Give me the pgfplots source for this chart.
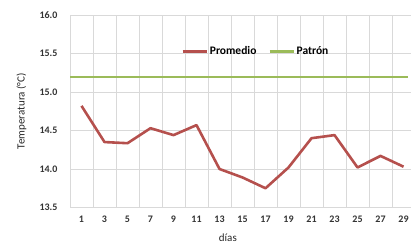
\documentclass[border=0pt]{standalone}
\usepackage{fontspec}
\setmainfont{Carlito}
\usepackage{pgfplots}
\pgfplotsset{compat=1.18}
\definecolor{prom}{HTML}{B5504D}
\definecolor{patr}{HTML}{9BBB59}
\definecolor{gridc}{HTML}{D9D9D9}
\begin{document}
\begin{tikzpicture}[x=1bp,y=1bp]
\useasboundingbox (-70bp,-38.5bp) rectangle (341bp,207.5bp);
\begin{axis}[
  at={(0,0)}, anchor=south west,
  scale only axis, width=341bp, height=192.5bp,
  xmin=0, xmax=29.65, ymin=13.5, ymax=16,
  axis line style={gridc},
  axis x line*=bottom, axis y line*=left,
  xtick={1,3,...,29}, minor xtick={2,4,...,28},
  ytick={13.5,14,...,16},
  tick style={draw=none},
  minor tick style={draw=none},
  xminorgrids, ymajorgrids,
  grid style={gridc, line width=0.6bp},
  minor grid style={gridc, line width=0.6bp},
  /pgf/number format/assume math mode=true,
  y tick label style={/pgf/number format/fixed, /pgf/number format/fixed zerofill, /pgf/number format/precision=1},
  ticklabel style={font=\fontsize{10bp}{12bp}\selectfont\bfseries, text=black!80},
  xticklabel style={yshift=-5bp},
  yticklabel style={xshift=-9bp},
  xlabel={días}, ylabel={Temperatura (°C)},
  label style={font=\fontsize{11bp}{13bp}\selectfont, text=black!85},
  xlabel style={at={(axis description cs:0.463,0)}, anchor=north, yshift=-23bp},
  ylabel style={at={(axis description cs:0,0.5)}, anchor=south, yshift=40bp},
  legend style={at={(0.545,0.81)}, anchor=center, draw=none, fill=none,
    legend columns=2, font=\fontsize{11.5bp}{13bp}\selectfont\bfseries,
    /tikz/every even column/.append style={column sep=10bp}},
  legend image code/.code={\draw[#1] (0bp,0bp) -- (24bp,0bp);},
]
\addplot[prom, line width=2.6bp, line join=round] coordinates {
(1,14.82) (3,14.35) (5,14.335) (7,14.53) (9,14.44) (11,14.57) (13,14.0)
(15,13.89) (17,13.75) (19,14.02) (21,14.40) (23,14.44) (25,14.02) (27,14.17) (29,14.03)};
\addlegendentry{Promedio}
\addplot[patr, line width=2.2bp] coordinates {(0,15.2) (29.4,15.2)};
\addlegendentry{Patrón}
\end{axis}
\end{tikzpicture}
\end{document}
